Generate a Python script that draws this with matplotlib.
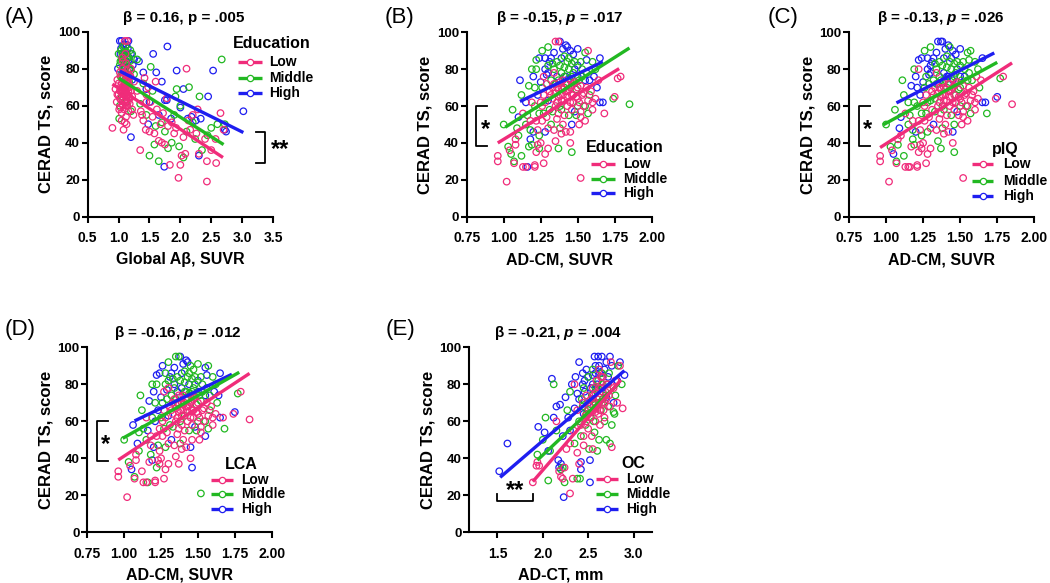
import matplotlib
matplotlib.use('Agg')
import matplotlib.pyplot as plt
import numpy as np

plt.rcParams['font.family'] = ['Liberation Sans', 'DejaVu Sans']
plt.rcParams['font.weight'] = 'bold'
plt.rcParams['mathtext.fontset'] = 'custom'
plt.rcParams['mathtext.it'] = 'Liberation Sans:italic:bold'
plt.rcParams['mathtext.rm'] = 'Liberation Sans:bold'

# ---------------- colours / groups ----------------
group_names = ['Low', 'Middle', 'High']
group_codes = ['L', 'M', 'H']
group_colors = ['#F02C7A', '#22B822', '#1E1EF0']

# ---------------- Panel A: Global Abeta vs CERAD ----------------
a_low_x = [0.90, 0.95, 0.97, 0.98, 1.00, 1.01, 1.02, 1.03, 1.04, 1.05, 1.05, 1.06, 1.06, 1.07, 1.07,
           1.08, 1.08, 1.09, 1.09, 1.10, 1.10, 1.11, 1.11, 1.12, 1.12, 1.13, 1.13, 1.14, 1.14, 1.15,
           1.16, 1.16, 1.17, 1.18, 1.19, 1.20, 1.22, 1.24, 1.08, 1.10, 1.18, 1.10, 1.14, 1.06, 1.20,
           1.25, 1.30, 1.35, 1.36, 1.38, 1.40, 1.42, 1.44, 1.45, 1.48, 1.50, 1.52, 1.55, 1.58, 1.60,
           1.62, 1.65, 1.68, 1.70, 1.72, 1.75, 1.78, 1.80, 1.83, 1.86, 1.90, 1.93, 1.97, 2.00, 2.02,
           2.05, 2.08, 2.10, 2.13, 2.16, 2.20, 2.26, 2.28, 2.30, 2.40, 2.43, 2.43, 2.50, 2.57, 2.58,
           2.65, 2.70, 1.45, 1.04, 1.12, 1.15, 1.09,
           0.98, 1.00, 1.02, 1.03, 1.04, 1.06, 1.07, 1.08, 1.09, 1.10, 1.11, 1.12, 1.13, 1.14, 1.15,
           1.16, 1.17, 1.18, 1.05, 1.13, 1.22, 1.07, 1.11, 1.02, 1.09]
a_low_y = [48, 69, 62, 74, 66, 58, 78, 70, 63, 72, 56, 80, 67, 60, 75,
           69, 64, 73, 58, 77, 66, 62, 71, 68, 54, 74, 65, 60, 79, 70,
           57, 72, 65, 61, 76, 68, 58, 55, 47, 51, 70, 95, 95, 86, 80,
           73, 68, 36, 57, 55, 52, 75, 47, 66, 70, 46, 62, 54, 45, 73,
           58, 41, 50, 40, 56, 39, 64, 49, 28, 51, 45, 48, 21, 28, 33,
           43, 34, 80, 52, 47, 55, 45, 58, 34, 42, 19, 30, 36, 42, 29,
           56, 47, 62, 68, 83, 66, 71,
           66, 72, 64, 59, 76, 70, 66, 78, 62, 70, 67, 60, 72, 66, 62,
           68, 76, 64, 52, 50, 65, 84, 88, 68, 66]
a_mid_x = [1.00, 1.01, 1.02, 1.03, 1.04, 1.05, 1.06, 1.07, 1.08, 1.09, 1.10, 1.11, 1.12, 1.13, 1.14,
           1.15, 1.16, 1.17, 1.18, 1.20, 1.22, 1.25, 1.05, 1.13, 1.20, 1.02, 1.30, 1.35, 1.40, 1.45,
           1.50, 1.52, 1.55, 1.58, 1.60, 1.65, 1.70, 1.75, 1.80, 1.86, 1.90, 1.92, 1.94, 1.98, 2.00,
           2.05, 2.10, 2.14, 2.20, 2.24, 2.31, 2.35, 2.44, 2.50, 2.60, 2.67, 2.72,
           1.03, 1.06, 1.09, 1.11, 1.14, 1.17, 1.08, 1.15, 1.19]
a_mid_y = [88, 53, 82, 76, 90, 85, 78, 92, 83, 70, 87, 80, 75, 89, 82,
           77, 86, 73, 84, 79, 88, 77, 65, 62, 57, 60, 85, 61, 72, 55,
           33, 81, 68, 39, 49, 30, 51, 46, 37, 40, 55, 65, 69, 38, 60,
           32, 46, 70, 51, 42, 65, 36, 44, 48, 50, 85, 50,
           84, 88, 86, 92, 86, 80, 76, 72, 90]
a_high_x = [1.02, 1.05, 1.08, 1.10, 1.03, 1.06, 1.12, 1.15, 1.09, 1.18, 1.14, 1.20, 1.22, 1.25, 0.99,
            1.11, 1.20, 1.16, 1.33, 1.40, 1.45, 1.50, 1.56, 1.61, 1.65, 1.70, 1.74, 1.75, 1.78, 1.79,
            1.85, 1.94, 2.00, 2.05, 2.12, 2.18, 2.25, 2.30, 2.33, 2.45, 2.53, 2.74, 2.72, 3.02, 1.48,
            1.04, 1.07, 1.13, 1.17, 1.10, 1.23]
a_high_y = [95, 95, 93, 90, 88, 86, 84, 91, 82, 80, 76, 88, 74, 85, 80,
            70, 43, 95, 84, 78, 69, 62, 88, 78, 55, 73, 27, 63, 63, 92,
            53, 79, 59, 69, 53, 54, 52, 33, 53, 65, 79, 46, 47, 57, 50,
            91, 88, 93, 86, 80, 82]

# ---------------- Panels B-D: AD-CM vs CERAD (same subjects, three groupings) ----------------
cm_x = [0.96, 0.96, 1.02, 1.00, 1.03, 1.04, 1.05, 1.07, 1.07, 1.08,
        1.08, 1.09, 1.10, 1.12, 1.13, 1.15, 1.16, 1.17, 1.19, 1.21,
        1.21, 1.22, 1.23, 1.24, 1.25, 1.27, 1.28, 1.30, 1.37, 1.46,
        1.52, 1.06, 1.10, 1.11, 1.12, 1.13, 1.15, 1.16, 1.17, 1.18,
        1.19, 1.20, 1.21, 1.21, 1.22, 1.23, 1.23, 1.24, 1.25, 1.25,
        1.22, 1.24, 1.26, 1.28, 1.30, 1.31, 1.33, 1.34, 1.35, 1.37,
        1.38, 1.40, 1.42, 1.43, 1.41, 1.44, 1.46, 1.47, 1.50, 1.52,
        1.55, 1.57, 1.56, 1.60, 1.65, 1.38, 1.28, 1.22, 1.27, 1.29,
        1.30, 1.31, 1.32, 1.33, 1.33, 1.34, 1.35, 1.35, 1.36, 1.36,
        1.37, 1.37, 1.38, 1.38, 1.39, 1.39, 1.40, 1.40, 1.41, 1.41,
        1.42, 1.42, 1.43, 1.43, 1.44, 1.44, 1.45, 1.45, 1.46, 1.47,
        1.47, 1.48, 1.49, 1.50, 1.50, 1.52, 1.53, 1.54, 1.55, 1.31,
        1.29, 1.32, 1.34, 1.36, 1.38, 1.40, 1.42, 1.44, 1.45, 1.46,
        1.48, 1.50, 1.52, 1.52, 1.55, 1.55, 1.57, 1.60, 1.60, 1.62,
        1.58, 1.61, 1.63, 1.65, 1.67, 1.68, 1.74, 1.75, 1.77, 1.79,
        1.85, 1.46, 1.28, 1.24, 1.26, 1.30, 1.18, 1.45, 1.39, 1.35,
        1.32, 1.34, 1.36, 1.37, 1.38, 1.39, 1.40, 1.41, 1.42, 1.43,
        1.44, 1.45, 1.46, 1.46, 1.47, 1.48, 1.49, 1.50, 1.51, 1.51,
        1.53, 1.53, 1.56, 1.56, 1.58, 1.30, 1.32, 1.34, 1.36, 1.39,
        1.41, 1.43, 1.45, 1.48, 1.50, 1.26, 1.27, 1.28, 1.29, 1.27,
        1.30, 1.33, 1.35, 1.37, 1.39, 1.41, 1.43, 1.47, 1.49, 1.51,
        1.54, 1.57, 1.59, 1.62, 1.64, 1.20, 1.19, 1.15, 1.18, 1.26]
cm_y = [33, 30, 19, 50, 38, 36, 34, 30, 29, 42,
        39, 48, 44, 33, 27, 27, 27, 38, 39, 27,
        28, 35, 39, 37, 40, 29, 34, 37, 37, 35,
        21, 58, 54, 74, 66, 56, 62, 55, 71, 47,
        62, 46, 60, 70, 52, 47, 66, 56, 62, 73,
        85, 86, 90, 86, 92, 84, 83, 89, 95, 95,
        95, 91, 93, 92, 87, 86, 83, 88, 91, 84,
        89, 90, 85, 84, 86, 82, 80, 80, 76, 72,
        78, 68, 74, 70, 64, 78, 67, 72, 62, 76,
        69, 65, 73, 60, 70, 78, 66, 74, 63, 70,
        68, 76, 72, 65, 80, 69, 74, 62, 71, 78,
        66, 73, 69, 76, 64, 71, 80, 67, 74, 58,
        54, 50, 47, 53, 48, 50, 46, 55, 46, 58,
        57, 60, 54, 57, 52, 60, 63, 62, 58, 64,
        74, 76, 70, 62, 62, 56, 64, 65, 75, 76,
        61, 50, 46, 44, 60, 63, 42, 40, 45, 41,
        66, 72, 70, 74, 66, 63, 69, 76, 72, 68,
        75, 70, 66, 76, 72, 80, 65, 70, 74, 62,
        66, 76, 70, 78, 66, 82, 86, 80, 84, 86,
        81, 84, 90, 84, 82, 70, 66, 62, 77, 56,
        48, 57, 60, 56, 58, 55, 60, 62, 55, 50,
        60, 56, 68, 80, 74, 76, 80, 50, 52, 52]
edu_grp = ("LLLMMLMMLL" "LMMMLLHMML" "LLLMLLLLMM" "LMHHMLHMMM"
           "LHMMLLHMLH" "MHMHMHMHLL" "HHHHMMMHHM" "MLHMHMHMLL"
           "HLMLLLLMLH" "LLLMLMLLLM" "LHLLMLMLLM" "LLMHLLMLHM"
           "LMLLMLLMLL" "HMLLLMLLLL" "HHHHHLMLLL" "MHHMLHHLLL"
           "LLLMLLLMLL" "HLLMLHLLML" "LMLHMMHMMH" "MMHMHMLLHM"
           "LMLLMLLLML" "LMLMLHMMLL")
piq_grp = ("LLLMMLHMLL" "MHLMLLLLML" "LLLLLLLLMM" "LMHMMLMMHM"
           "MHMHLLHMLH" "HHMHMHMHHH" "HHHMMHMHHM" "MMMMHMHLMM"
           "HLMLMLLHLM" "LLLMLHLMLM" "LHLLMLHLLM" "MLMHLLMLML"
           "LHLLMLLMHL" "HMLLLMLLLL" "MLMHHMLHML" "LMMMLMMLLM"
           "LMLMLLLHLL" "MLLMLHLMML" "LHLMLHHMMH" "MMHMMMLMHM"
           "LMLLMLLLLL" "LMLMLHMMLL")
lca_grp = ("LLLMMLHMLL" "LHMLLLMLHL" "LMLLLLLLLH" "MHMMMMLHHL"
           "MHHMLMHLMH" "HHHMMHMHMM" "HHHHMMMMMM" "HMHMHMMMLM"
           "LLMLLMLMLH" "LLLMLHLLML" "LMLLHLMLLM" "LLMHLMMLHM"
           "LHLLMLLMHL" "HMLLHMLLLL" "MHMHLMLHML" "LLMLLHMLLL"
           "LLMLLLLMLL" "MLLMLMLLML" "LMLHMMHHMH" "MMMMHMLLHM"
           "LMLLLLLLML" "LMLMHHMMLL")

# ---------------- Panel E: AD-CT vs CERAD ----------------
e_low_x = [1.89, 1.93, 1.96, 1.94, 2.15, 2.18, 2.20, 2.22, 2.24, 2.30, 2.33, 2.26, 2.30, 2.34, 2.38,
           2.40, 2.35, 2.38, 2.42, 2.44, 2.45, 2.47, 2.48, 2.50, 2.50, 2.52, 2.53, 2.54, 2.55, 2.56,
           2.57, 2.58, 2.58, 2.59, 2.60, 2.61, 2.62, 2.62, 2.63, 2.64, 2.65, 2.66, 2.67, 2.68, 2.69,
           2.70, 2.72, 2.74, 2.75, 2.76, 2.78, 2.80, 2.82, 2.85, 2.88, 2.55, 2.45,
           2.52, 2.56, 2.60, 2.63, 2.66, 2.70, 2.68, 2.73, 2.58, 2.62, 2.64, 2.48]
e_low_y = [27, 36, 36, 38, 60, 33, 30, 29, 35, 21, 29, 45, 48, 55, 43,
           37, 80, 66, 58, 70, 52, 63, 74, 56, 67, 62, 72, 52, 78, 66,
           70, 60, 75, 82, 68, 64, 73, 88, 58, 78, 70, 84, 66, 62, 76,
           72, 80, 68, 92, 46, 78, 82, 70, 90, 67, 45, 47,
           68, 74, 72, 66, 76, 80, 70, 74, 65, 78, 84, 60]
e_mid_x = [1.94, 2.00, 2.03, 2.06, 2.08, 2.12, 2.15, 2.20, 2.22, 2.24, 2.27, 2.30, 2.35, 2.38, 2.40,
           2.41, 2.42, 2.43, 2.45, 2.47, 2.48, 2.50, 2.51, 2.52, 2.54, 2.55, 2.56, 2.57, 2.58, 2.60,
           2.61, 2.62, 2.64, 2.65, 2.66, 2.68, 2.70, 2.71, 2.72, 2.74, 2.76, 2.78, 2.79, 2.80, 2.83,
           2.87, 2.60, 2.50, 2.55, 2.58, 2.62, 2.66, 2.69, 2.73, 2.44, 2.53]
e_mid_y = [42, 50, 62, 28, 44, 80, 55, 34, 35, 27, 66, 76, 48, 29, 60,
           29, 52, 72, 78, 58, 64, 84, 45, 68, 74, 88, 60, 54, 70, 77,
           82, 50, 66, 86, 72, 60, 50, 80, 68, 48, 58, 65, 64, 74, 90,
           80, 44, 66, 72, 78, 70, 80, 74, 86, 68, 62]
e_high_x = [1.52, 1.61, 1.95, 2.02, 2.06, 2.10, 2.12, 2.15, 2.17, 2.18, 2.19, 2.20, 2.22, 2.23, 2.25,
            2.28, 2.32, 2.35, 2.38, 2.40, 2.42, 2.42, 2.44, 2.45, 2.46, 2.48, 2.50, 2.52, 2.52, 2.53,
            2.55, 2.57, 2.58, 2.60, 2.61, 2.63, 2.65, 2.66, 2.68, 2.70, 2.72, 2.74, 2.76, 2.78, 2.82,
            2.85, 2.90, 2.30, 2.46, 2.50, 2.55, 2.58, 2.62, 2.66, 2.70, 2.44, 2.36, 2.40]
e_high_y = [33, 48, 57, 54, 44, 83, 62, 68, 39, 35, 69, 37, 52, 19, 73,
            62, 80, 67, 75, 92, 34, 38, 86, 64, 82, 88, 70, 27, 39, 78,
            85, 95, 90, 80, 95, 86, 95, 78, 88, 73, 84, 95, 90, 70, 82,
            92, 85, 55, 76, 84, 80, 86, 90, 84, 92, 80, 84, 72]

# ---------------- regression fits (slope, intercept, x-range) per group L, M, H ----------------
fit_slope = {'A': [-22.18, -21.14, -16.57], 'B': [49.15, 51.19, 38.39], 'C': [51.57, 44.03, 41.06],
             'D': [52.58, 45.19, 38.18], 'E': [56.60, 46.11, 42.12]}
fit_icept = {'A': [91.66, 96.08, 95.55], 'B': [-7.18, -3.20, 19.89], 'C': [-12.01, 6.65, 17.77],
             'D': [-11.38, 6.06, 19.35], 'E': [-79.57, -50.45, -34.74]}
fit_xmin = {'A': [0.90, 1.00, 1.02], 'B': [0.96, 1.01, 1.11], 'C': [0.96, 0.98, 1.07],
            'D': [0.96, 0.99, 1.07], 'E': [1.89, 1.94, 1.53]}
fit_xmax = {'A': [2.69, 2.70, 3.02], 'B': [1.78, 1.85, 1.67], 'C': [1.85, 1.75, 1.73],
            'D': [1.85, 1.78, 1.73], 'E': [2.86, 2.84, 2.90]}

titles = {'A': ('β = 0.16, ', ' = .005', False), 'B': ('β = -0.15, ', ' = .017', True),
          'C': ('β = -0.13, ', ' = .026', True), 'D': ('β = -0.16, ', ' = .012', True),
          'E': ('β = -0.21, ', ' = .004', True)}
xlabels = {'A': 'Global Aβ, SUVR', 'B': 'AD-CM, SUVR', 'C': 'AD-CM, SUVR', 'D': 'AD-CM, SUVR',
           'E': 'AD-CT, mm'}
legend_titles = {'A': 'Education', 'B': 'Education', 'C': 'pIQ', 'D': 'LCA', 'E': 'OC'}
y_ticks = [0, 20, 40, 60, 80, 100]
x_ticks = {'A': [0.5, 1.0, 1.5, 2.0, 2.5, 3.0, 3.5], 'B': [0.75, 1.00, 1.25, 1.50, 1.75, 2.00],
           'C': [0.75, 1.00, 1.25, 1.50, 1.75, 2.00], 'D': [0.75, 1.00, 1.25, 1.50, 1.75, 2.00],
           'E': [1.5, 2.0, 2.5, 3.0]}
x_fmt = {'A': '{:.1f}', 'B': '{:.2f}', 'C': '{:.2f}', 'D': '{:.2f}', 'E': '{:.1f}'}
x_lims = {'A': (0.5, 3.5), 'B': (0.75, 2.0), 'C': (0.75, 2.0), 'D': (0.75, 2.0), 'E': (1.19, 3.2)}

# ---------------- layout (pixels) ----------------
W, H = 1050, 583
fig = plt.figure(figsize=(W / 100, H / 100), dpi=100)
boxes = {'A': (87.7, 273.0, 31.7, 216.7), 'B': (466.7, 651.7, 32.3, 216.7),
         'C': (849.0, 1034.3, 32.3, 216.7), 'D': (87.3, 271.7, 347.3, 532.3),
         'E': (469.3, 651.7, 347.3, 532.3)}
panel_lab_pos = {'A': (5, 17), 'B': (385, 17), 'C': (768, 17), 'D': (5, 330), 'E': (386, 330)}
title_x = {'A': 0.516, 'B': 0.504, 'C': 0.495, 'D': 0.489, 'E': 0.488}
legend_pos = {  # title x, title y, line x0, line x1, row ys, label x
    'A': (0.993, 0.934, 0.813, 0.940, [0.835, 0.752, 0.667], 0.980),
    'B': (0.856, 0.374, 0.670, 0.801, [0.284, 0.204, 0.127], 0.843),
    'C': (0.842, 0.362, 0.662, 0.779, [0.284, 0.194, 0.114], 0.834),
    'D': (0.837, 0.364, 0.669, 0.792, [0.283, 0.205, 0.126], 0.832),
    'E': (0.899, 0.373, 0.693, 0.817, [0.288, 0.207, 0.124], 0.859)}


def make_ax(key):
    l, r, t, b = boxes[key]
    ax = fig.add_axes([l / W, 1 - b / H, (r - l) / W, (b - t) / H])
    ax.set_xlim(*x_lims[key])
    ax.set_ylim(0, 100)
    for s in ['top', 'right']:
        ax.spines[s].set_visible(False)
    for s in ['left', 'bottom']:
        ax.spines[s].set_linewidth(1.5)
    ax.set_yticks(y_ticks)
    ax.set_yticklabels([str(v) for v in y_ticks])
    ax.set_xticks(x_ticks[key])
    ax.set_xticklabels([x_fmt[key].format(v) for v in x_ticks[key]])
    ax.tick_params(axis='both', width=1.5, length=4.5)
    ax.tick_params(axis='y', pad=1, labelsize=9.5)
    ax.tick_params(axis='x', pad=6, labelsize=10)
    for lab in ax.get_xticklabels() + ax.get_yticklabels():
        lab.set_fontweight('bold')
    ax.set_ylabel('CERAD TS, score', fontsize=12, fontweight='bold', labelpad=3)
    ax.set_xlabel(xlabels[key], fontsize=11.5, fontweight='bold', labelpad=5)
    pre, post, ital = titles[key]
    ax.text(title_x[key], 1.075, pre + ('$\\mathit{p}$' if ital else 'p') + post,
            transform=ax.transAxes, ha='center', va='center', fontsize=11, fontweight='bold')
    px, py = panel_lab_pos[key]
    fig.text(px / W, 1 - py / H, '(' + key + ')', ha='left', va='center', fontsize=16,
             fontweight='normal')
    return ax


def draw_groups(ax, key, xs, ys):
    for gi in [2, 1, 0]:
        ax.scatter(xs[gi], ys[gi], s=22, facecolors='none', edgecolors=group_colors[gi],
                   linewidths=0.9, zorder=2, clip_on=False)
    for gi in [2, 1, 0]:
        xx = np.array([fit_xmin[key][gi], fit_xmax[key][gi]])
        ax.plot(xx, fit_slope[key][gi] * xx + fit_icept[key][gi], color=group_colors[gi], lw=2.4,
                zorder=3, solid_capstyle='butt')


def draw_legend(ax, key):
    tx, ty, x0, x1, rows, lx = legend_pos[key]
    ax.text(tx, ty, legend_titles[key], transform=ax.transAxes, ha='center', va='center',
            fontsize=11.5, fontweight='bold')
    for gi in range(3):
        ax.plot([x0, x1], [rows[gi], rows[gi]], transform=ax.transAxes, color=group_colors[gi],
                lw=2.4, clip_on=False, zorder=4, solid_capstyle='butt')
        ax.plot([(x0 + x1) / 2], [rows[gi]], transform=ax.transAxes, marker='o', ms=4.5,
                mfc='white', mec=group_colors[gi], mew=0.9, clip_on=False, zorder=5)
        ax.text(lx, rows[gi], group_names[gi], transform=ax.transAxes, ha='left', va='center',
                fontsize=10, fontweight='bold')


def split(xs, ys, codes):
    outx, outy = [], []
    for c in group_codes:
        outx.append([x for x, g in zip(xs, codes) if g == c])
        outy.append([y for y, g in zip(ys, codes) if g == c])
    return outx, outy


# Panel A
axA = make_ax('A')
draw_groups(axA, 'A', [a_low_x, a_mid_x, a_high_x], [a_low_y, a_mid_y, a_high_y])
draw_legend(axA, 'A')
axA.plot([3.23, 3.37, 3.37, 3.23], [46, 46, 29, 29], color='black', lw=1.3, clip_on=False)
axA.text(3.62, 36.5, '**', ha='center', va='center', fontsize=17, fontweight='bold')

# Panels B, C, D
for key, codes in [('B', edu_grp), ('C', piq_grp), ('D', lca_grp)]:
    ax = make_ax(key)
    gx, gy = split(cm_x, cm_y, codes)
    draw_groups(ax, key, gx, gy)
    draw_legend(ax, key)
    ax.plot([0.89, 0.815, 0.815, 0.89], [60, 60, 38.5, 38.5], color='black', lw=1.3, clip_on=False)
    ax.text(0.875, 47.5, '*', ha='center', va='center', fontsize=17, fontweight='bold')

# Panel E
axE = make_ax('E')
draw_groups(axE, 'E', [e_low_x, e_mid_x, e_high_x], [e_low_y, e_mid_y, e_high_y])
draw_legend(axE, 'E')
axE.plot([1.49, 1.49, 1.89, 1.89], [20.7, 17, 17, 20.7], color='black', lw=1.3, clip_on=False)
axE.text(1.69, 22.5, '**', ha='center', va='center', fontsize=17, fontweight='bold')

fig.savefig('out.png', dpi=100)
